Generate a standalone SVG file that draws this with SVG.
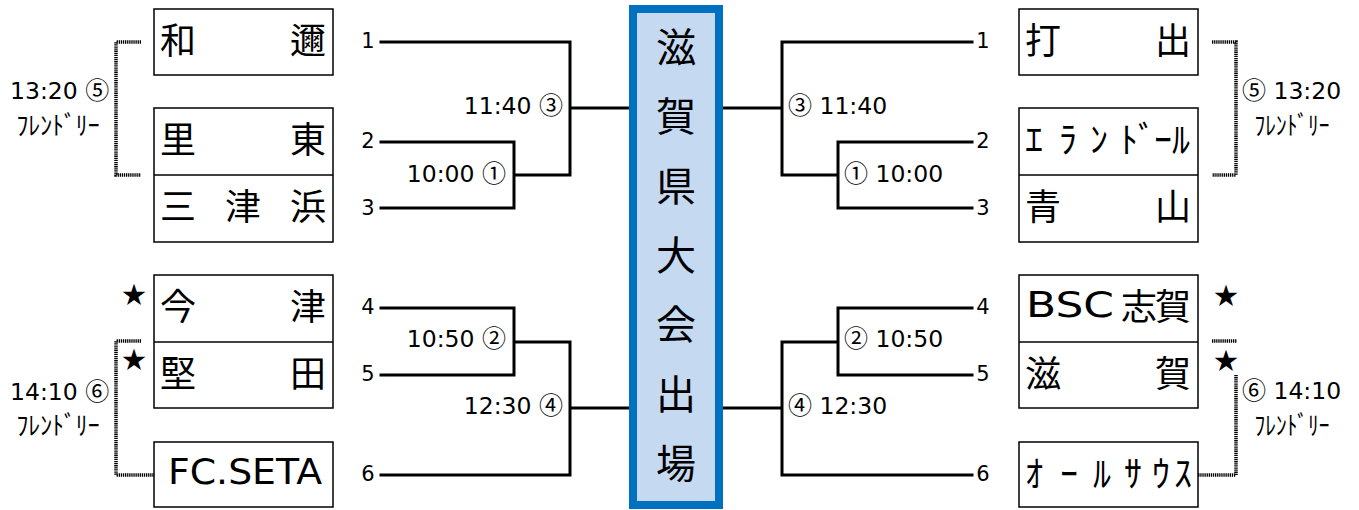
<svg xmlns="http://www.w3.org/2000/svg" width="1359" height="510" viewBox="0 0 1359 510">
<style>
.bg{fill:#ffffff}
.box{fill:#ffffff;stroke:#000000;stroke-width:1.5}
.div{stroke:#000000;stroke-width:1.5}
.name{font-family:"Noto Sans CJK JP","DejaVu Sans",sans-serif;font-size:36px;fill:#000;dominant-baseline:central}
.lat{font-family:"DejaVu Sans","Noto Sans CJK JP",sans-serif;font-size:36px;fill:#000;dominant-baseline:central}
.time{font-family:"DejaVu Sans","Noto Sans CJK JP",sans-serif;font-size:23.5px;fill:#000}
.c{font-family:"Noto Sans CJK JP",sans-serif;font-size:24px}
.num{font-family:"DejaVu Sans",sans-serif;font-size:21px;fill:#000;text-anchor:middle}
.fr{font-family:"Noto Sans CJK JP",sans-serif;font-size:26px;fill:#000;text-anchor:middle;dominant-baseline:central}
.star{font-family:"Noto Sans CJK JP",sans-serif;font-size:24px;fill:#000;text-anchor:middle;dominant-baseline:central}
.ln{fill:none;stroke:#000;stroke-width:3;stroke-linecap:square}
.dot{fill:none;stroke:#000;stroke-width:3.5;stroke-dasharray:1.3 0.8}
.ctr{fill:#c5d9f1;stroke:#0070c0;stroke-width:8}
.ctxt{font-family:"Noto Sans CJK JP",sans-serif;font-size:40px;fill:#000;text-anchor:middle;dominant-baseline:central}
</style>
<rect class="bg" x="0" y="0" width="1359" height="510"/>

<g id="connectors">
  <path class="ln" d="M381,42 H570 V175 H514 M570,108 H629 M381,142 H514 V208 H381"/>
  <path class="ln" d="M381,308 H514 V375 H381 M514,342 H570 V475 H381 M570,408 H629"/>
  <path class="ln" d="M972,42 H782 V175 H838 M782,108 H723 M972,142 H838 V208 H972"/>
  <path class="ln" d="M972,308 H838 V375 H972 M838,342 H782 V475 H972 M782,408 H723"/>
  <path class="dot" d="M141,42 H116 V175 H141"/>
  <path class="dot" d="M141,341 H116 V475 H154"/>
  <path class="dot" d="M1212,42 H1236 V175 H1212"/>
  <path class="dot" d="M1212,341 H1237"/>
  <path class="dot" d="M1236,375 V475 H1198"/>
</g>

<g id="center">
  <rect class="ctr" x="633" y="9" width="86" height="496"/>
  <text class="ctxt" x="676" y="45">滋</text>
  <text class="ctxt" x="676" y="114">賀</text>
  <text class="ctxt" x="676" y="184">県</text>
  <text class="ctxt" x="676" y="253">大</text>
  <text class="ctxt" x="676" y="322">会</text>
  <text class="ctxt" x="676" y="392">出</text>
  <text class="ctxt" x="676" y="461">場</text>
</g>

<g id="team-wani">
  <rect class="box" x="154" y="9" width="179" height="66"/>
  <text class="name" x="160" y="38">和</text>
  <text class="name" x="326" y="38" text-anchor="end">邇</text>
</g>
<g id="team-satohigashi-mitsuhama">
  <rect class="box" x="154" y="108" width="179" height="134"/>
  <line class="div" x1="154" y1="175" x2="333" y2="175"/>
  <text class="name" x="160" y="137">里</text>
  <text class="name" x="326" y="137" text-anchor="end">東</text>
  <text class="name" x="160" y="204">三</text>
  <text class="name" x="243" y="204" text-anchor="middle">津</text>
  <text class="name" x="326" y="204" text-anchor="end">浜</text>
</g>
<g id="team-imazu-katata">
  <rect class="box" x="154" y="275" width="179" height="133"/>
  <line class="div" x1="154" y1="342" x2="333" y2="342"/>
  <text class="name" x="160" y="304">今</text>
  <text class="name" x="326" y="304" text-anchor="end">津</text>
  <text class="name" x="160" y="371">堅</text>
  <text class="name" x="326" y="371" text-anchor="end">田</text>
</g>
<g id="team-fcseta">
  <rect class="box" x="154" y="442" width="179" height="65"/>
  <text class="lat" x="245" y="471" text-anchor="middle" textLength="154" lengthAdjust="spacingAndGlyphs">FC.SETA</text>
</g>

<g id="team-uchide">
  <rect class="box" x="1019" y="9" width="179" height="66"/>
  <text class="name" x="1025" y="38">打</text>
  <text class="name" x="1191" y="38" text-anchor="end">出</text>
</g>
<g id="team-elandor-aoyama">
  <rect class="box" x="1019" y="108" width="179" height="134"/>
  <line class="div" x1="1019" y1="175" x2="1198" y2="175"/>
  <text class="name" x="1025 1059 1090 1120 1138 1154 1172" y="137">ｴﾗﾝﾄﾞｰﾙ</text>
  <text class="name" x="1025" y="204">青</text>
  <text class="name" x="1191" y="204" text-anchor="end">山</text>
</g>
<g id="team-bsc-shiga">
  <rect class="box" x="1019" y="275" width="179" height="133"/>
  <line class="div" x1="1019" y1="342" x2="1198" y2="342"/>
  <text class="lat" x="1026" y="304" textLength="88" lengthAdjust="spacingAndGlyphs">BSC</text>
  <text class="name" x="1121" y="304">志</text>
  <text class="name" x="1191" y="304" text-anchor="end">賀</text>
  <text class="name" x="1025" y="371">滋</text>
  <text class="name" x="1191" y="371" text-anchor="end">賀</text>
</g>
<g id="team-allsouth">
  <rect class="box" x="1019" y="442" width="179" height="65"/>
  <text class="name" x="1025 1060 1093 1124 1152 1174" y="471">ｵｰﾙｻｳｽ</text>
</g>

<g id="labels">
  <text class="num" x="368" y="48">1</text>
  <text class="num" x="368" y="148">2</text>
  <text class="num" x="368" y="215">3</text>
  <text class="num" x="368" y="314">4</text>
  <text class="num" x="368" y="381">5</text>
  <text class="num" x="368" y="481">6</text>
  <text class="num" x="983" y="48">1</text>
  <text class="num" x="983" y="148">2</text>
  <text class="num" x="983" y="215">3</text>
  <text class="num" x="983" y="314">4</text>
  <text class="num" x="983" y="381">5</text>
  <text class="num" x="983" y="481">6</text>

  <text class="time" x="563" y="114" text-anchor="end">11:40 <tspan class="c">③</tspan></text>
  <text class="time" x="506" y="182" text-anchor="end">10:00 <tspan class="c">①</tspan></text>
  <text class="time" x="506" y="347" text-anchor="end">10:50 <tspan class="c">②</tspan></text>
  <text class="time" x="563" y="414" text-anchor="end">12:30 <tspan class="c">④</tspan></text>
  <text class="time" x="788" y="114"><tspan class="c">③</tspan> 11:40</text>
  <text class="time" x="844" y="182"><tspan class="c">①</tspan> 10:00</text>
  <text class="time" x="844" y="347"><tspan class="c">②</tspan> 10:50</text>
  <text class="time" x="788" y="414"><tspan class="c">④</tspan> 12:30</text>

  <text class="time" x="10" y="99">13:20 <tspan class="c">⑤</tspan></text>
  <text class="fr" x="58" y="123" textLength="83" lengthAdjust="spacingAndGlyphs">ﾌﾚﾝﾄﾞﾘｰ</text>
  <text class="time" x="10" y="400">14:10 <tspan class="c">⑥</tspan></text>
  <text class="fr" x="58" y="423" textLength="83" lengthAdjust="spacingAndGlyphs">ﾌﾚﾝﾄﾞﾘｰ</text>
  <text class="time" x="1242" y="99"><tspan class="c">⑤</tspan> 13:20</text>
  <text class="fr" x="1292" y="123" textLength="75" lengthAdjust="spacingAndGlyphs">ﾌﾚﾝﾄﾞﾘｰ</text>
  <text class="time" x="1242" y="399"><tspan class="c">⑥</tspan> 14:10</text>
  <text class="fr" x="1292" y="423" textLength="75" lengthAdjust="spacingAndGlyphs">ﾌﾚﾝﾄﾞﾘｰ</text>

  <text class="star" x="134" y="292">★</text>
  <text class="star" x="134" y="357">★</text>
  <text class="star" x="1226" y="293">★</text>
  <text class="star" x="1226" y="358">★</text>
</g>
</svg>
